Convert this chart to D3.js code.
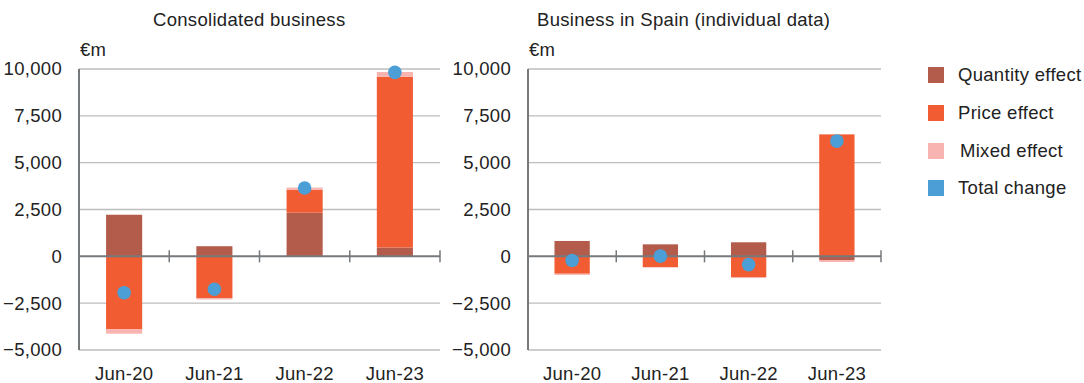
<!DOCTYPE html>
<html>
<head>
<meta charset="utf-8">
<script src="https://cdn.jsdelivr.net/npm/d3@7"></script>
<style>
  html, body { margin: 0; padding: 0; background: #fff; }
  svg { display: block; font-family: "Liberation Sans", Arial, sans-serif; letter-spacing: 0.3px; }
</style>
</head>
<body>
<svg id="chart" width="1084" height="383"></svg>
<script>
// Categories and effect breakdown (€m)
const categories = ["Jun-20", "Jun-21", "Jun-22", "Jun-23"];
const yTicks = [-5000, -2500, 0, 2500, 5000, 7500, 10000];

const consolidatedQuantity = [2220, 540, 2330, 470];
const consolidatedPrice    = [-3900, -2230, 1230, 9120];
const consolidatedMixed    = [-230, -70, 110, 250];
const consolidatedTotal    = [-1940, -1760, 3650, 9820];

const spainQuantity = [820, 640, 750, -195];
const spainPrice    = [-930, -570, -1105, 6510];
const spainMixed    = [-60, -30, -55, -105];
const spainTotal    = [-220, 10, -440, 6150];

const seriesKeys  = ["quantity", "price", "mixed"];
const seriesNames = ["Quantity effect", "Price effect", "Mixed effect", "Total change"];
const colors = { quantity: "#b45c4c", price: "#f15c33", mixed: "#f8b4b0", total: "#4b9fd6" };

const FS = 18.5;
const svg = d3.select("#chart");
const fmt = d3.format(",");

function drawPanel(opts) {
  const { x0, x1, title, titleX, quantity, price, mixed, total } = opts;
  const yTop = 69, yBot = 350;

  const y = d3.scaleLinear().domain([-5000, 10000]).range([yBot, yTop]);
  const x = d3.scaleBand().domain(categories).range([x0, x1]).padding(0);
  const barW = x.bandwidth() * 0.4;

  const g = svg.append("g");

  // Title and unit
  g.append("text").attr("x", titleX).attr("y", 26)
    .attr("font-size", FS).attr("fill", "#222").text(title);
  g.append("text").attr("x", x0 + 1).attr("y", 56)
    .attr("font-size", FS).attr("fill", "#222").text("€m");

  // Gridlines
  g.selectAll("line.grid").data(yTicks.filter(d => d !== 0)).join("line")
    .attr("class", "grid")
    .attr("x1", x0).attr("x2", x1)
    .attr("y1", d => y(d)).attr("y2", d => y(d))
    .attr("stroke", "#bdbdbd").attr("stroke-width", 1.3);

  // Y tick labels
  g.selectAll("text.ytick").data(yTicks).join("text")
    .attr("class", "ytick")
    .attr("x", x0 - 17).attr("y", d => y(d)).attr("dy", "0.35em")
    .attr("text-anchor", "end").attr("font-size", FS).attr("fill", "#222")
    .text(d => fmt(d));

  // Stacked bars (positive up, negative down from zero)
  const rows = categories.map((c, i) => ({
    cat: c, quantity: quantity[i], price: price[i], mixed: mixed[i]
  }));
  const stacked = d3.stack().keys(seriesKeys).offset(d3.stackOffsetDiverging)(rows);

  stacked.forEach(layer => {
    g.selectAll(null).data(layer).join("rect")
      .attr("x", d => x(d.data.cat) + (x.bandwidth() - barW) / 2)
      .attr("width", barW)
      .attr("y", d => y(Math.max(d[0], d[1])))
      .attr("height", d => Math.abs(y(d[0]) - y(d[1])))
      .attr("fill", colors[layer.key]);
  });

  // Y axis line
  g.append("line").attr("x1", x0).attr("x2", x0)
    .attr("y1", yTop).attr("y2", yBot)
    .attr("stroke", "#76797c").attr("stroke-width", 2);

  // Zero line with category separators
  g.append("line").attr("x1", x0).attr("x2", x1)
    .attr("y1", y(0)).attr("y2", y(0))
    .attr("stroke", "#76797c").attr("stroke-width", 2);
  g.selectAll("line.sep").data(categories).join("line")
    .attr("class", "sep")
    .attr("x1", d => x(d) + x.bandwidth()).attr("x2", d => x(d) + x.bandwidth())
    .attr("y1", y(0) - 6).attr("y2", y(0) + 6)
    .attr("stroke", "#76797c").attr("stroke-width", 1.5);

  // Category labels
  g.selectAll("text.xlab").data(categories).join("text")
    .attr("class", "xlab")
    .attr("x", d => x(d) + x.bandwidth() / 2).attr("y", 380)
    .attr("text-anchor", "middle").attr("font-size", FS).attr("fill", "#222")
    .text(d => d);

  // Total change markers
  g.selectAll("circle.total").data(total).join("circle")
    .attr("class", "total")
    .attr("cx", (d, i) => x(categories[i]) + x.bandwidth() / 2)
    .attr("cy", d => y(d))
    .attr("r", 6.8)
    .attr("fill", colors.total);
}

drawPanel({
  x0: 79, x1: 440, title: "Consolidated business", titleX: 153,
  quantity: consolidatedQuantity, price: consolidatedPrice,
  mixed: consolidatedMixed, total: consolidatedTotal
});
drawPanel({
  x0: 528, x1: 881, title: "Business in Spain (individual data)", titleX: 537,
  quantity: spainQuantity, price: spainPrice,
  mixed: spainMixed, total: spainTotal
});

// Legend
const legendKeys = ["quantity", "price", "mixed", "total"];
const legendY = [75, 113, 151, 188];
const legend = svg.append("g");
legendKeys.forEach((k, i) => {
  legend.append("rect").attr("x", 928).attr("y", legendY[i] - 8)
    .attr("width", 16).attr("height", 16).attr("fill", colors[k]);
  legend.append("text").attr("x", k === "mixed" ? 960 : 958).attr("y", legendY[i])
    .attr("dy", "0.35em").attr("font-size", FS).attr("fill", "#222")
    .text(seriesNames[i]);
});
</script>
</body>
</html>
